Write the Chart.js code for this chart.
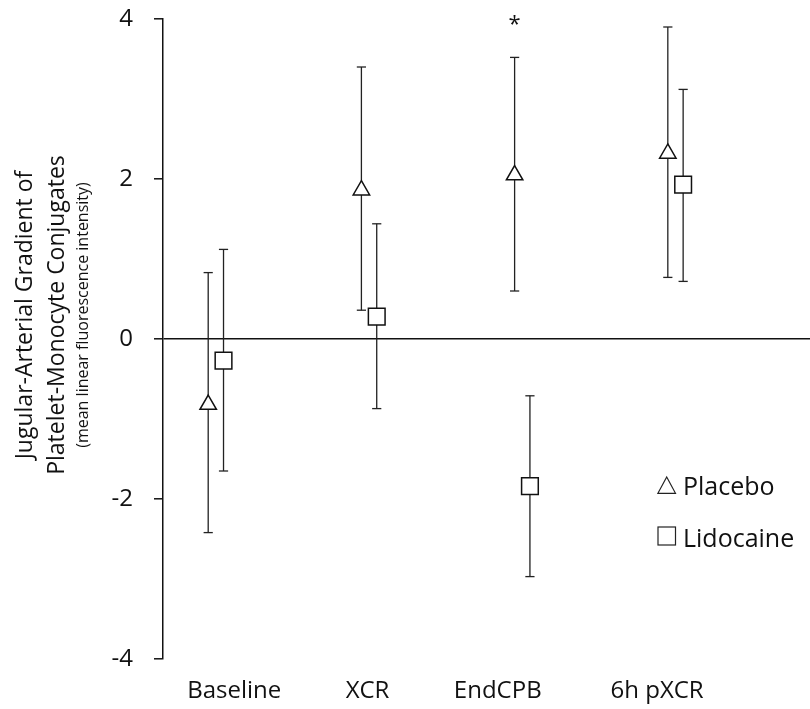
<!DOCTYPE html>
<html>
<head>
<meta charset="utf-8">
<script src="https://cdn.jsdelivr.net/npm/chart.js@4/dist/chart.umd.min.js"></script>
<style>
  html, body { margin: 0; padding: 0; background: #fff; }
  #wrap { width: 810px; height: 709px; }
</style>
</head>
<body>
<div id="wrap"><canvas id="gradChart" width="810" height="709"></canvas></div>
<script>
(function () {
    'use strict';

    // categories and where their labels sit along the x axis
    var categories = ['Baseline', 'XCR', 'EndCPB', '6h pXCR'];
    var labelAt = [1.12, 1.99, 2.84, 3.88];
    var yTicks = [-4, -2, 0, 2, 4];

    // Placebo: mean, lower and upper end of the error bar
    var placeboMean = [-0.82, 1.86, 2.05, 2.32];
    var placeboLow = [-2.42, 0.36, 0.60, 0.77];
    var placeboHigh = [0.83, 3.40, 3.52, 3.90];

    // Lidocaine
    var lidoMean = [-0.27, 0.28, -1.84, 1.93];
    var lidoLow = [-1.65, -0.87, -2.97, 0.72];
    var lidoHigh = [1.12, 1.44, -0.71, 3.12];

    var seriesNames = ['Placebo', 'Lidocaine'];
    var starCategory = 2; // significant difference marked with *

    var FONT = '"Open Sans", "DejaVu Sans", sans-serif';
    var shift = 0.05;

    function markerPoints(means, dx) {
        return means.map(function (v, i) {
            return { x: i + 1 + dx, y: v };
        });
    }

    function barPoints(lows, highs, dx) {
        var pts = [];
        lows.forEach(function (lo, i) {
            pts.push({ x: i + 1 + dx, y: lo });
            pts.push({ x: i + 1 + dx, y: highs[i] });
            pts.push({ x: i + 1 + dx, y: null });
        });
        return pts;
    }

    function barSet(lows, highs, dx) {
        return {
            type: 'line',
            data: barPoints(lows, highs, dx),
            borderColor: '#222',
            borderWidth: 1.3,
            spanGaps: false,
            pointStyle: 'line',
            pointRadius: 4.6,
            pointBorderColor: '#222',
            pointBorderWidth: 1.3,
            order: 2
        };
    }

    var extras = {
        id: 'extras',
        afterDraw: function (chart) {
            var ctx = chart.ctx;
            var xs = chart.scales.x;
            var ys = chart.scales.y;
            ctx.save();
            ctx.fillStyle = '#111';

            // y axis title, three lines
            ctx.save();
            ctx.translate(0, 315);
            ctx.rotate(-Math.PI / 2);
            ctx.textAlign = 'center';
            ctx.textBaseline = 'middle';
            ctx.font = '23px ' + FONT;
            ctx.fillText('Jugular-Arterial Gradient of', 0, 25);
            ctx.fillText('Platelet-Monocyte Conjugates', 0, 57);
            ctx.font = '16px ' + FONT;
            ctx.fillText('(mean linear fluorescence intensity)', 0, 83);
            ctx.restore();

            // asterisk
            ctx.font = '22px ' + FONT;
            ctx.textAlign = 'center';
            ctx.textBaseline = 'alphabetic';
            ctx.fillText('*', xs.getPixelForValue(starCategory + 1 - shift), ys.getPixelForValue(4) + 12);

            // legend
            ctx.strokeStyle = '#222';
            ctx.lineWidth = 1.2;
            ctx.beginPath();
            ctx.moveTo(666.7, 477);
            ctx.lineTo(675.5, 493.3);
            ctx.lineTo(657.9, 493.3);
            ctx.closePath();
            ctx.stroke();
            ctx.strokeRect(658, 527, 17.5, 18);
            ctx.font = '25px ' + FONT;
            ctx.textAlign = 'left';
            ctx.fillText(seriesNames[0], 683, 495);
            ctx.fillText(seriesNames[1], 683, 546.5);
            ctx.restore();
        }
    };

    new Chart(document.getElementById('gradChart').getContext('2d'), {
        type: 'scatter',
        data: {
            datasets: [{
                label: seriesNames[0],
                data: markerPoints(placeboMean, -shift),
                pointStyle: 'triangle',
                pointRadius: 9.5,
                pointBackgroundColor: '#fff',
                pointBorderColor: '#111',
                pointBorderWidth: 1.5,
                order: 0
            }, {
                label: seriesNames[1],
                data: markerPoints(lidoMean, shift),
                pointStyle: 'rect',
                pointRadius: 11.8,
                pointBackgroundColor: '#fff',
                pointBorderColor: '#111',
                pointBorderWidth: 1.5,
                order: 0
            },
            barSet(placeboLow, placeboHigh, -shift),
            barSet(lidoLow, lidoHigh, shift)]
        },
        options: {
            responsive: false,
            animation: false,
            events: [],
            layout: { autoPadding: false, padding: { top: 19, right: 0, bottom: 0, left: 0 } },
            plugins: {
                legend: { display: false },
                tooltip: { enabled: false }
            },
            scales: {
                x: {
                    type: 'linear',
                    min: 0.655,
                    max: 4.878,
                    afterBuildTicks: function (axis) {
                        axis.ticks = labelAt.map(function (v) { return { value: v }; });
                    },
                    afterFit: function (axis) {
                        axis.height = 50;
                        axis.paddingLeft = 0;
                        axis.paddingRight = 0;
                    },
                    grid: { display: false, drawTicks: false },
                    border: { display: false },
                    ticks: {
                        autoSkip: false,
                        maxRotation: 0,
                        padding: 18,
                        color: '#111',
                        font: { family: FONT, size: 24 },
                        callback: function (value, index) {
                            return categories[index];
                        }
                    }
                },
                y: {
                    min: -4,
                    max: 4,
                    afterBuildTicks: function (axis) {
                        axis.ticks = yTicks.map(function (v) { return { value: v }; });
                    },
                    afterFit: function (axis) {
                        axis.width = 163;
                        axis.paddingTop = 0;
                        axis.paddingBottom = 0;
                    },
                    border: { display: true, color: '#111', width: 1.5 },
                    grid: {
                        drawOnChartArea: true,
                        color: function (c) {
                            return c.tick && c.tick.value === 0 ? '#111' : 'rgba(0,0,0,0)';
                        },
                        lineWidth: 1.6,
                        tickColor: '#111',
                        tickLength: 9,
                        tickWidth: 1.5
                    },
                    ticks: {
                        padding: 21,
                        color: '#111',
                        font: { family: FONT, size: 24 }
                    }
                }
            }
        },
        plugins: [extras]
    });
})();
</script>
</body>
</html>
